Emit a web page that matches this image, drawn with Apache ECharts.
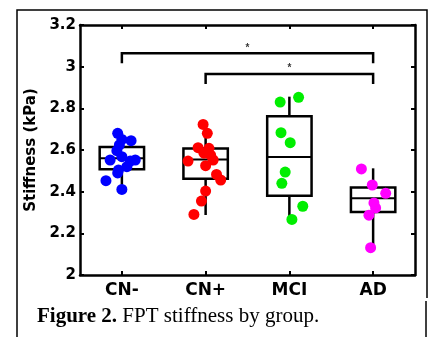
<!DOCTYPE html>
<html>
<head>
<meta charset="utf-8">
<script src="https://cdn.jsdelivr.net/npm/echarts@6/dist/echarts.min.js"></script>
<style>html,body{margin:0;padding:0;background:#fff;}#c{width:431px;height:337px;}</style>
</head>
<body>
<div id="c"></div>
<script>
const categories = ['CN-', 'CN+', 'MCI', 'AD'];
const groupColors = ['#0000ff', '#ff0000', '#00ee00', '#ff00ff'];

// [min, Q1, median, Q3, max]
const boxCNminus = [2.41, 2.508, 2.56, 2.615, 2.68];
const boxCNplus = [2.288, 2.462, 2.554, 2.607, 2.72];
const boxMCI = [2.265, 2.38, 2.566, 2.762, 2.856];
const boxAD = [2.128, 2.303, 2.368, 2.42, 2.512];

const cnMinusValues = [2.68, 2.651, 2.645, 2.624, 2.597, 2.568, 2.552, 2.552, 2.547, 2.52, 2.504, 2.49, 2.453, 2.411];
const cnMinusJitter = [-0.05, 0.0, 0.11, -0.03, -0.06, 0.0, -0.14, 0.16, 0.10, 0.06, -0.04, -0.05, -0.19, 0.0];
const cnPlusValues = [2.723, 2.68, 2.611, 2.608, 2.585, 2.575, 2.547, 2.552, 2.525, 2.483, 2.456, 2.403, 2.355, 2.291];
const cnPlusJitter = [-0.03, 0.02, -0.09, 0.04, -0.02, 0.06, -0.21, 0.09, 0.0, 0.13, 0.18, 0.0, -0.05, -0.14];
const mciValues = [2.853, 2.83, 2.683, 2.635, 2.494, 2.44, 2.33, 2.267];
const mciJitter = [0.11, -0.11, -0.10, 0.01, -0.05, -0.09, 0.16, 0.03];
const adValues = [2.509, 2.432, 2.392, 2.346, 2.322, 2.287, 2.131];
const adJitter = [-0.14, -0.01, 0.15, 0.01, 0.03, -0.05, -0.03];

// significance brackets: [from group, to group], bar level, leg bottom, star level
const sigPairs = [[1, 4], [2, 4]];
const sigBarLevel = [3.064, 2.965];
const sigLegBottom = [3.016, 2.917];
const sigStarLevel = [3.09, 2.993];

const yMin = 2, yMax = 3.2, yStep = 0.2;

const boxes = [boxCNminus, boxCNplus, boxMCI, boxAD];
const groupValues = [cnMinusValues, cnPlusValues, mciValues, adValues];
const groupJitter = [cnMinusJitter, cnPlusJitter, mciJitter, adJitter];

const chart = echarts.init(document.getElementById('c'), null, {renderer: 'canvas'});

const AX = '#000';
const FONT = 'DejaVu Sans';

const series = [];
series.push({
  type: 'custom',
  xAxisIndex: 2,
  yAxisIndex: 0,
  z: 2,
  data: boxes.map((b, i) => [i + 1].concat(b)),
  encode: {x: 0, y: [1, 2, 3, 4, 5]},
  renderItem: function (params, api) {
    const x = api.value(0);
    const mn = api.coord([x, api.value(1)]);
    const q1 = api.coord([x, api.value(2)]);
    const md = api.coord([x, api.value(3)]);
    const q3 = api.coord([x, api.value(4)]);
    const mx = api.coord([x, api.value(5)]);
    const w = api.size([1, 0])[0] * 0.53;
    const st = {stroke: '#000', lineWidth: 2.5, fill: null};
    return {
      type: 'group',
      children: [
        {type: 'line', shape: {x1: mx[0], y1: mx[1], x2: q3[0], y2: q3[1]}, style: st},
        {type: 'line', shape: {x1: q1[0], y1: q1[1], x2: mn[0], y2: mn[1]}, style: st},
        {type: 'rect', shape: {x: q3[0] - w / 2, y: q3[1], width: w, height: q1[1] - q3[1]}, style: {stroke: '#000', lineWidth: 2.5, fill: 'rgba(0,0,0,0)'}},
        {type: 'line', shape: {x1: md[0] - w / 2, y1: md[1], x2: md[0] + w / 2, y2: md[1]}, style: {stroke: '#000', lineWidth: 2}}
      ]
    };
  }
});

groupValues.forEach((vals, g) => {
  series.push({
    type: 'scatter',
    xAxisIndex: 2,
    yAxisIndex: 0,
    z: 5,
    symbol: 'circle',
    symbolSize: 11,
    itemStyle: {color: groupColors[g], opacity: 1},
    data: vals.map((v, k) => [g + 1 + groupJitter[g][k], v])
  });
});

sigPairs.forEach((p, i) => {
  series.push({
    type: 'line',
    xAxisIndex: 2,
    yAxisIndex: 0,
    z: 4,
    symbol: 'none',
    lineStyle: {color: '#000', width: 2.5, join: 'miter'},
    data: [[p[0], sigLegBottom[i]], [p[0], sigBarLevel[i]], [p[1], sigBarLevel[i]], [p[1], sigLegBottom[i]]]
  });
});

series.push({
  type: 'scatter',
  xAxisIndex: 2,
  yAxisIndex: 0,
  z: 4,
  symbolSize: 1,
  itemStyle: {color: 'rgba(0,0,0,0)'},
  label: {show: true, position: 'inside', formatter: '*', color: '#000', fontSize: 10, fontWeight: 'bold', fontFamily: 'Liberation Sans'},
  data: sigPairs.map((p, i) => [(p[0] + p[1]) / 2, sigStarLevel[i]])
});

const option = {
  animation: false,
  backgroundColor: '#fff',
  grid: {left: 80, right: 16, top: 25, bottom: 62, containLabel: false},
  xAxis: [
    {
      type: 'category', data: categories, position: 'bottom', boundaryGap: true,
      axisLine: {show: true, lineStyle: {color: AX, width: 2.5}},
      axisTick: {show: true, inside: true, alignWithLabel: true, length: 4, lineStyle: {color: AX, width: 2}},
      axisLabel: {margin: 7, fontFamily: FONT, fontWeight: 'bold', fontSize: 17, color: '#000'},
      splitLine: {show: false}
    },
    {
      type: 'category', data: categories, position: 'top', boundaryGap: true,
      axisLine: {show: true, lineStyle: {color: AX, width: 2.5}},
      axisTick: {show: true, inside: true, alignWithLabel: true, length: 4, lineStyle: {color: AX, width: 2}},
      axisLabel: {show: false},
      splitLine: {show: false}
    },
    {type: 'value', min: 0.5, max: 4.5, show: false}
  ],
  yAxis: [
    {
      type: 'value', min: yMin, max: yMax, interval: yStep, position: 'left',
      name: 'Stiffness (kPa)', nameLocation: 'middle', nameGap: 38, nameRotate: 90,
      nameTextStyle: {fontFamily: FONT, fontWeight: 'bold', fontSize: 15, color: '#000'},
      axisLine: {show: true, lineStyle: {color: AX, width: 2.5}},
      axisTick: {show: true, inside: true, length: 4, lineStyle: {color: AX, width: 2}},
      axisLabel: {margin: 4, fontFamily: FONT, fontWeight: 'bold', fontSize: 15, color: '#000'},
      splitLine: {show: false}
    },
    {
      type: 'value', min: yMin, max: yMax, interval: yStep, position: 'right',
      axisLine: {show: true, lineStyle: {color: AX, width: 2.5}},
      axisTick: {show: true, inside: true, length: 4, lineStyle: {color: AX, width: 2}},
      axisLabel: {show: false},
      splitLine: {show: false}
    }
  ],
  graphic: [
    {
      type: 'polyline', silent: true,
      shape: {points: [[17, 337], [17, 10], [427, 10], [427, 298]]},
      style: {stroke: '#000', lineWidth: 1.5, fill: null}
    },
    {
      type: 'line', silent: true,
      shape: {x1: 426, y1: 301, x2: 426, y2: 337},
      style: {stroke: '#000', lineWidth: 1.5}
    },
    {
      type: 'text', left: 37, top: 306, silent: true,
      style: {
        text: '{b|Figure 2.} FPT stiffness by group.',
        font: '21px "Liberation Serif"',
        fill: '#000',
        rich: {b: {fontWeight: 'bold', fontSize: 21, fontFamily: 'Liberation Serif'}}
      }
    }
  ],
  series: series
};
chart.setOption(option);
</script>
</body>
</html>
